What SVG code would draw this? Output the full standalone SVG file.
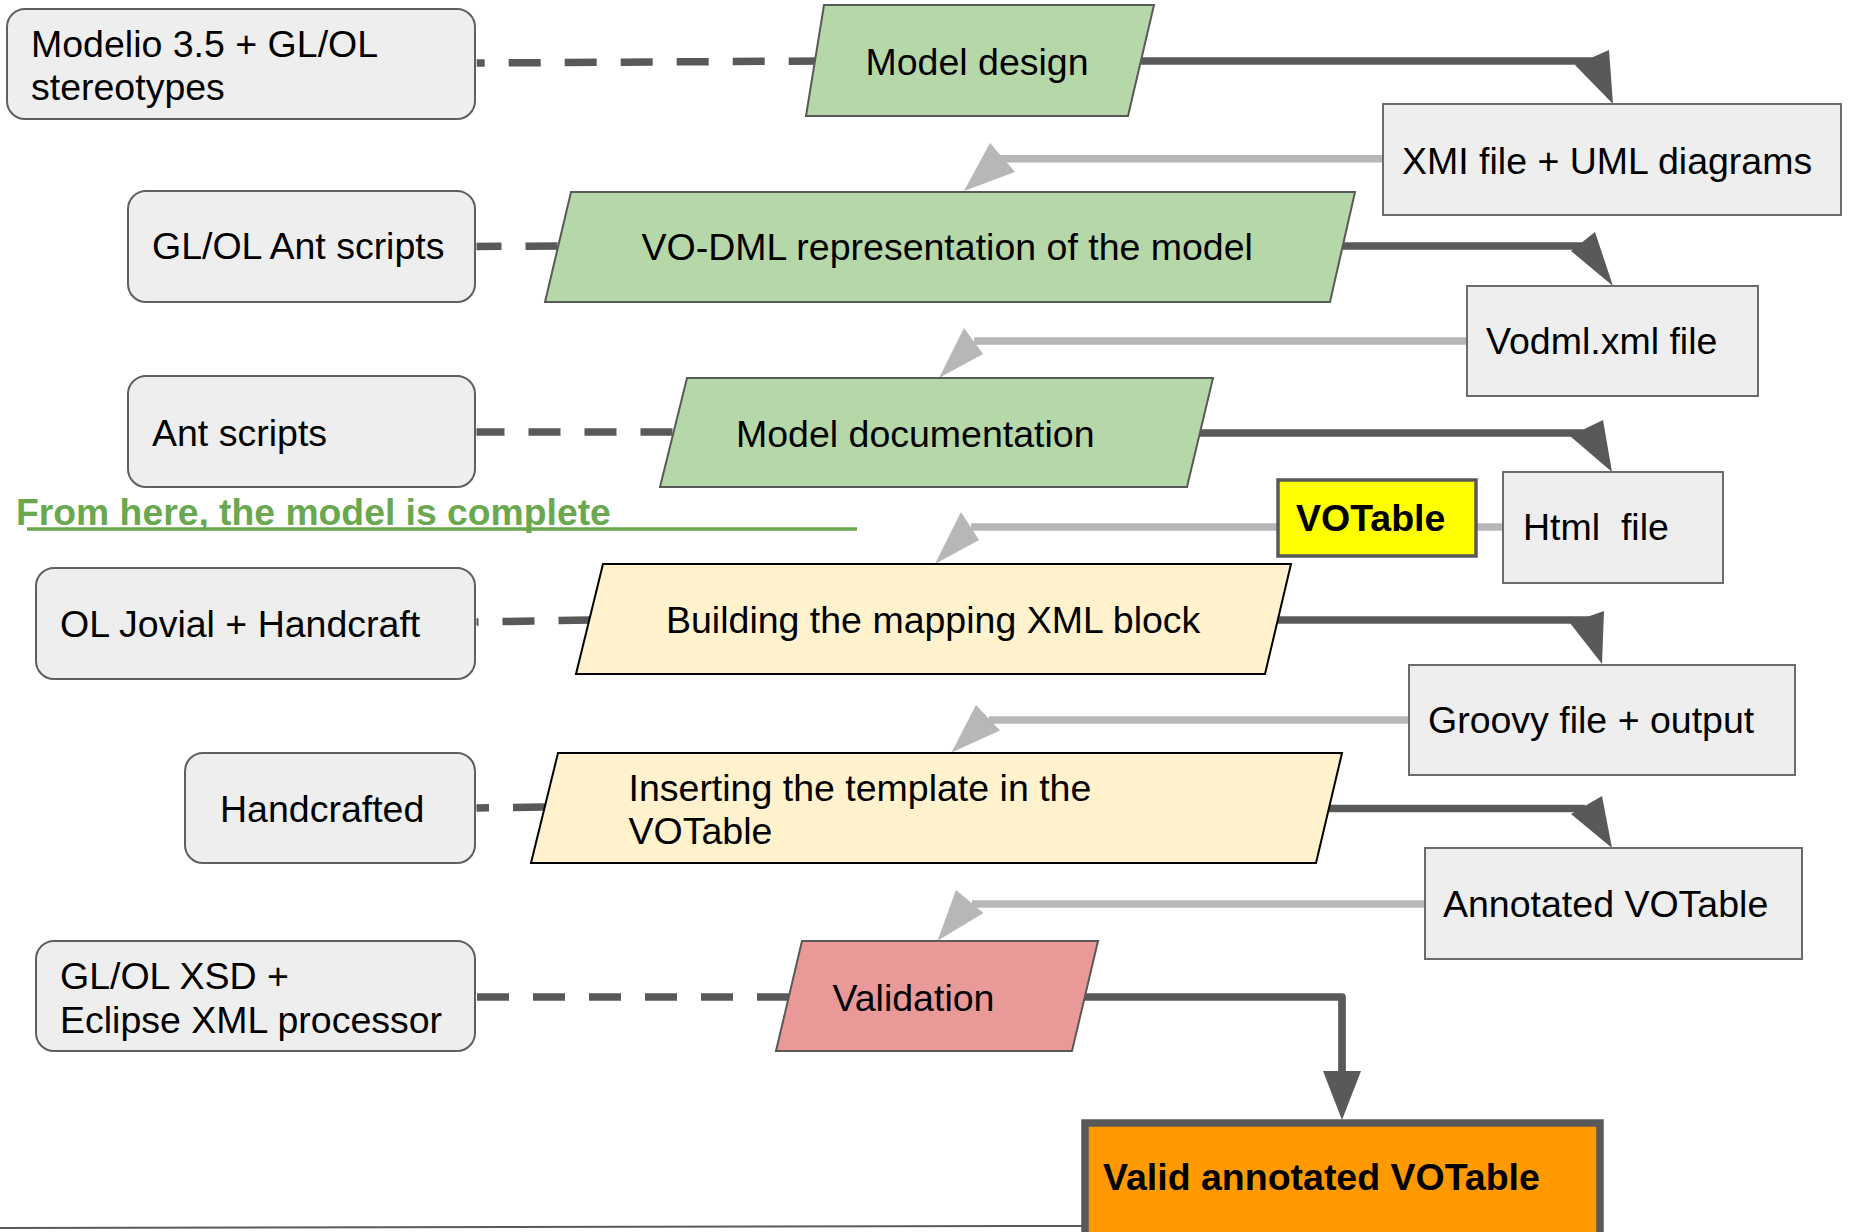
<svg xmlns="http://www.w3.org/2000/svg" width="1849" height="1232" viewBox="0 0 1849 1232">
<defs>
<style>
.t{font-family:"Liberation Sans",Arial,sans-serif;font-size:37.5px;fill:#000}
.b{font-weight:bold}
.src{fill:#eeeeee;stroke:#5f5f5f;stroke-width:2}
.out{fill:#eeeeee;stroke:#6b6b6b;stroke-width:2}
.green{fill:#b6d7a8;stroke:#595959;stroke-width:2}
.yel{fill:#fff2cc;stroke:#000;stroke-width:2}
.red{fill:#ea9999;stroke:#595959;stroke-width:2}
.dash{fill:none;stroke:#595959;stroke-width:7.5;stroke-dasharray:32 24}
.dk{fill:none;stroke:#595959;stroke-width:7.7;stroke-linejoin:round}
.lt{fill:none;stroke:#b7b7b7;stroke-width:7.5}
.dkh{fill:#595959}
.lth{fill:#b7b7b7}
</style>
</defs>
<rect width="1849" height="1232" fill="#ffffff"/>
<g id="connectors">
  <path class="dash" d="M476.7 63 L820 61" stroke-dashoffset="24"/>
  <path class="dash" d="M476.5 246.5 L560 246" stroke-dashoffset="7"/>
  <path class="dash" d="M476.5 432 L676 432" stroke-dashoffset="4"/>
  <path class="dash" d="M476.5 622 L592 620" stroke-dashoffset="30"/>
  <path class="dash" d="M476.5 808 L547 807" stroke-dashoffset="19.5"/>
  <path class="dash" d="M477 997 L792 997"/>

  <path class="dk" d="M1138 61 H1593"/>
  <polygon class="dkh" points="1575,65 1609,50 1613,104"/>
  <path class="dk" d="M1338 246 H1585"/>
  <polygon class="dkh" points="1571,251 1595,232 1613,286"/>
  <path class="dk" d="M1196 433 H1588"/>
  <polygon class="dkh" points="1570,436 1603,420 1612,472"/>
  <path class="dk" d="M1273 620 H1590"/>
  <polygon class="dkh" points="1570,623 1604,611 1602,664"/>
  <path class="dk" d="M1325 808.5 H1585"/>
  <polygon class="dkh" points="1571,814 1602,796 1612,848"/>
  <path class="dk" d="M1080 997 H1342 V1075"/>
  <polygon class="dkh" points="1323,1071 1361,1071 1342,1120"/>

  <path class="lt" d="M1384 158.7 H999"/>
  <polygon class="lth" points="990,143 1015,172 964,191"/>
  <path class="lt" d="M1468 341 H974"/>
  <polygon class="lth" points="964,328 983,354 939,378"/>
  <path class="lt" d="M1504 527 H971"/>
  <polygon class="lth" points="961,512 979,540 935,564"/>
  <path class="lt" d="M1410 720 H989"/>
  <polygon class="lth" points="976,705 1000,730.5 951.5,752.5"/>
  <path class="lt" d="M1426 904 H972"/>
  <polygon class="lth" points="956,890 983.5,913 937.5,940.7"/>

  <path d="M0 1228 L1082 1226" fill="none" stroke="#595959" stroke-width="2"/>
</g>

<g id="note-model-complete">
  <line x1="27" y1="529" x2="857" y2="529" stroke="#6aa84f" stroke-width="3.5"/>
  <text class="t b" x="16" y="525" style="fill:#6aa84f;font-size:37.3px">From here, the model is complete</text>
</g>

<g id="tool-modelio">
  <rect class="src" x="7" y="9" width="468" height="110" rx="18"/>
  <text class="t" x="31" y="56.5">Modelio 3.5 + GL/OL</text>
  <text class="t" x="31" y="99.5">stereotypes</text>
</g>
<g id="tool-glol-ant">
  <rect class="src" x="128" y="191" width="347" height="111" rx="18"/>
  <text class="t" x="152" y="259">GL/OL Ant scripts</text>
</g>
<g id="tool-ant">
  <rect class="src" x="128" y="376" width="347" height="111" rx="18"/>
  <text class="t" x="152" y="446">Ant scripts</text>
</g>
<g id="tool-jovial">
  <rect class="src" x="36" y="568" width="439" height="111" rx="18"/>
  <text class="t" x="60" y="637">OL Jovial + Handcraft</text>
</g>
<g id="tool-handcrafted">
  <rect class="src" x="185" y="753" width="290" height="110" rx="18"/>
  <text class="t" x="220" y="822">Handcrafted</text>
</g>
<g id="tool-xsd">
  <rect class="src" x="36" y="941" width="439" height="110" rx="18"/>
  <text class="t" x="60" y="989">GL/OL XSD +</text>
  <text class="t" x="60" y="1033">Eclipse XML processor</text>
</g>

<g id="step-model-design">
  <polygon class="green" points="824,5 1154,5 1128,116 806,116"/>
  <text class="t" x="865.5" y="75">Model design</text>
</g>
<g id="step-vodml">
  <polygon class="green" points="571,192 1355,192 1330,302 545,302"/>
  <text class="t" x="641.5" y="260">VO-DML representation of the model</text>
</g>
<g id="step-doc">
  <polygon class="green" points="687,378 1213,378 1187,487 660,487"/>
  <text class="t" x="736" y="447">Model documentation</text>
</g>
<g id="step-mapping">
  <polygon class="yel" points="603,564 1291,564 1265,674 576,674"/>
  <text class="t" x="666" y="633">Building the mapping XML block</text>
</g>
<g id="step-inserting">
  <polygon class="yel" points="558,753 1342,753 1316,863 531,863"/>
  <text class="t" x="628.5" y="801">Inserting the template in the</text>
  <text class="t" x="628.5" y="844">VOTable</text>
</g>
<g id="step-validation">
  <polygon class="red" points="802,941 1098,941 1072,1051 776,1051"/>
  <text class="t" x="832.5" y="1011">Validation</text>
</g>

<g id="out-xmi">
  <rect class="out" x="1383" y="104" width="458" height="111"/>
  <text class="t" x="1402" y="174">XMI file + UML diagrams</text>
</g>
<g id="out-vodml">
  <rect class="out" x="1467" y="286" width="291" height="110"/>
  <text class="t" x="1486" y="354">Vodml.xml file</text>
</g>
<g id="out-html">
  <rect class="out" x="1503" y="472" width="220" height="111"/>
  <text class="t" x="1523" y="540" style="white-space:pre">Html  file</text>
</g>
<g id="votable-label">
  <rect x="1278" y="480" width="198" height="76" fill="#ffff00" stroke="#595959" stroke-width="3.5"/>
  <text class="t b" x="1296" y="531">VOTable</text>
</g>
<g id="out-groovy">
  <rect class="out" x="1409" y="665" width="386" height="110"/>
  <text class="t" x="1428" y="733">Groovy file + output</text>
</g>
<g id="out-annotated">
  <rect class="out" x="1425" y="848" width="377" height="111"/>
  <text class="t" x="1443" y="917">Annotated VOTable</text>
</g>
<g id="out-valid">
  <rect x="1085" y="1123" width="515" height="150" fill="#ff9900" stroke="#595959" stroke-width="7.5"/>
  <text class="t b" x="1103" y="1190">Valid annotated VOTable</text>
</g>
</svg>
